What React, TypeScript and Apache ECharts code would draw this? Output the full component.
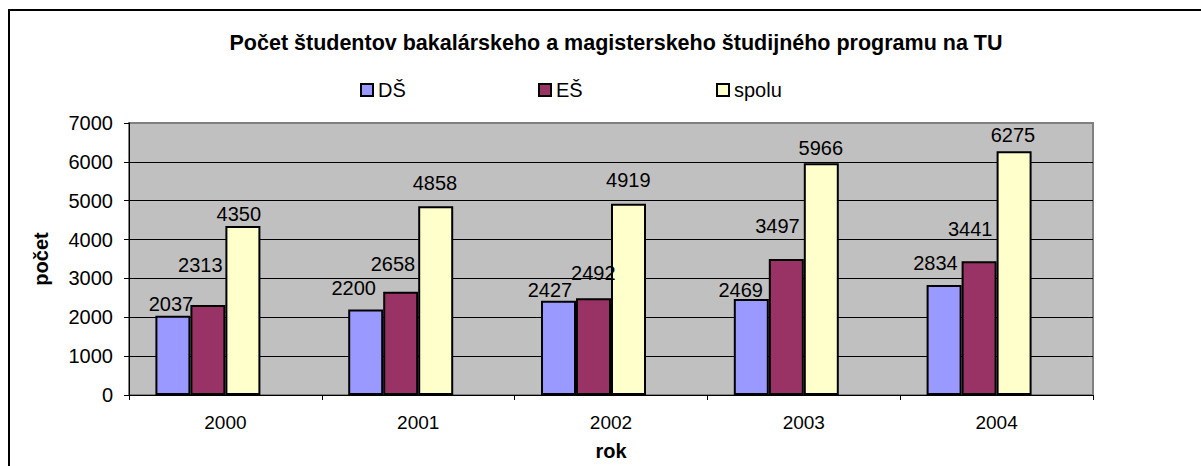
import React, { useEffect, useRef } from "react";
import * as echarts from "echarts";

const years = ["2000", "2001", "2002", "2003", "2004"];
const seriesNames = ["DŠ", "EŠ", "spolu"];
const dsValues = [2037, 2200, 2427, 2469, 2834];
const esValues = [2313, 2658, 2492, 3497, 3441];
const spoluValues = [4350, 4858, 4919, 5966, 6275];
const yTicks = { min: 0, max: 7000, interval: 1000 };

const titleText = "Počet študentov bakalárskeho a magisterskeho študijného programu na TU";
const xName = "rok";
const yName = "počet";

const colors = ["#9999FF", "#993366", "#FFFFCC"];

// label placement (offset from bar-top centre), styling only
const labelOffsets = [
  [[-2, -12], [-12, -21.7], [-8.5, -10.2], [-10.6, -8.6], [-8.6, -22.1]],
  [[-7.6, -40.4], [-7.7, -28.2], [-0.2, -25.4], [-8.8, -32.9], [-8.9, -32.6]],
  [[-4.1, -11.8], [-0.7, -23.7], [-0.2, -23.7], [-0.5, -15.2], [-1.1, -15.9]],
];

const FONT = "'Liberation Sans', Arial, sans-serif";

export default function App() {
  const ref = useRef<HTMLDivElement>(null);
  useEffect(() => {
    document.body.style.margin = "0";
    if (!ref.current) return;
    const chart = echarts.init(ref.current, null, { renderer: "svg" });
    const valuesList = [dsValues, esValues, spoluValues];
    const series: any[] = valuesList.map((vals, si) => ({
      type: "bar",
      name: seriesNames[si],
      barWidth: 35,
      barGap: "0%",
      itemStyle: { color: colors[si], borderColor: "#000", borderWidth: 2 },
      label: {
        show: true,
        position: "top",
        distance: 0,
        verticalAlign: "middle",
        color: "#000",
        fontSize: 20,
        fontFamily: FONT,
      },
      data: vals.map((v, i) => ({ value: v, label: { offset: labelOffsets[si][i] } })),
    }));
    // empty slot kept by the original chart layout (cluster of four)
    series.push({
      type: "bar",
      name: "_empty",
      barWidth: 35,
      barGap: "0%",
      silent: true,
      data: years.map(() => "-"),
    });
    const legendX = [360, 538, 716];
    chart.setOption({
      animation: false,
      textStyle: { fontFamily: FONT },
      title: {
        text: titleText,
        left: 611,
        top: 27,
        textAlign: "center",
        textStyle: { fontSize: 21.5, fontWeight: "bold", color: "#000", fontFamily: FONT },
      },
      legend: seriesNames.map((n, i) => ({
        data: [n],
        left: legendX[i],
        top: 80,
        padding: 0,
        icon: "rect",
        itemWidth: 12,
        itemHeight: 12,
        selectedMode: false,
        textStyle: { fontSize: 20, color: "#000", fontFamily: FONT },
      })),
      graphic: [
        {
          type: "rect",
          shape: { x: 9, y: 10, width: 1300, height: 600 },
          style: { fill: "none", stroke: "#000", lineWidth: 2 },
          silent: true,
        },
      ],
      grid: {
        left: 129,
        top: 123,
        right: 108,
        bottom: 71,
        outerBoundsMode: "none",
        show: true,
        backgroundColor: "#C0C0C0",
        borderColor: "#808080",
        borderWidth: 2,
      },
      xAxis: {
        type: "category",
        data: years,
        name: xName,
        nameLocation: "middle",
        nameGap: 46,
        nameTextStyle: { fontSize: 20, fontWeight: "bold", color: "#000", fontFamily: FONT },
        axisLine: { show: true, lineStyle: { color: "#000", width: 1 } },
        axisTick: { show: true, length: 5, interval: 0, lineStyle: { color: "#000" } },
        axisLabel: { color: "#000", fontSize: 19, margin: 18, fontFamily: FONT },
      },
      yAxis: {
        type: "value",
        min: yTicks.min,
        max: yTicks.max,
        interval: yTicks.interval,
        name: yName,
        nameLocation: "middle",
        nameGap: 78,
        nameRotate: 90,
        nameTextStyle: { fontSize: 20, fontWeight: "bold", color: "#000", fontFamily: FONT },
        axisLine: { show: true, lineStyle: { color: "#000", width: 1 } },
        axisTick: { show: true, length: 5, lineStyle: { color: "#000" } },
        axisLabel: {
          color: "#000",
          fontSize: 20,
          margin: 16,
          fontFamily: FONT,
          formatter: (v: number) => String(v),
        },
        splitLine: { show: true, showMaxLine: false, lineStyle: { color: "#000", width: 1 } },
      },
      series,
    });
    return () => chart.dispose();
  }, []);
  return <div ref={ref} style={{ width: 1201, height: 466, overflow: "hidden" }} />;
}
